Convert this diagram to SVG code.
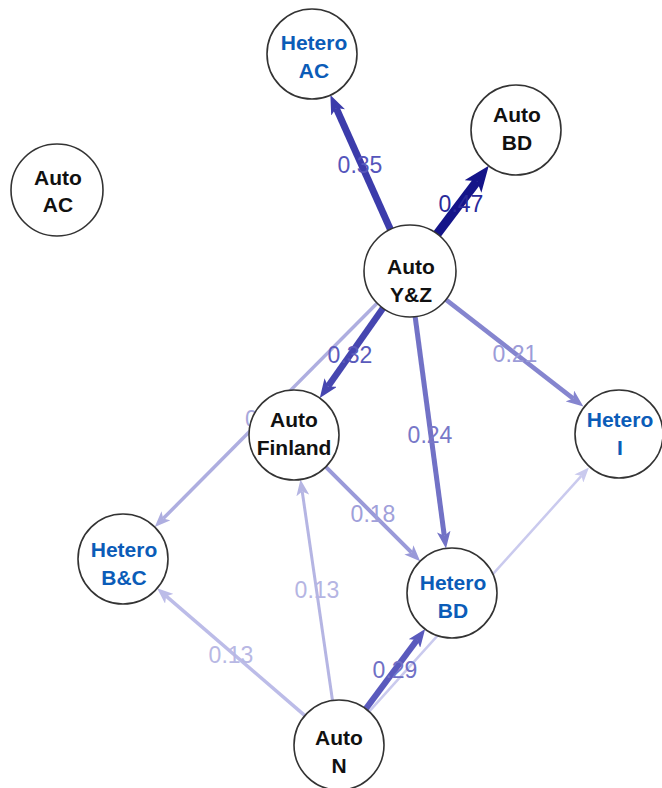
<svg xmlns="http://www.w3.org/2000/svg" width="662" height="788" viewBox="0 0 662 788">
  <style>
    .node circle { fill: #ffffff; stroke: #333333; stroke-width: 1.6; }
    .node text { font-family: "Liberation Sans", Arial, sans-serif; font-weight: bold; font-size: 21px; text-anchor: middle; }
    .auto text { fill: #111111; }
    .hetero text { fill: #0b5cb8; }
    .edge { fill: none; stroke-linecap: butt; }
    .elabel { font-family: "Liberation Sans", Arial, sans-serif; font-size: 23px; text-anchor: middle; }
  </style>
  <defs>
    <marker id="ah-47" viewBox="0 0 20 16" refX="5" refY="8" markerUnits="userSpaceOnUse" markerWidth="26" markerHeight="20.8" orient="auto"><path d="M0,0 L20,8 L0,16 L5,8 z" fill="#141489"/></marker>
    <marker id="ah-35" viewBox="0 0 20 16" refX="5" refY="8" markerUnits="userSpaceOnUse" markerWidth="19" markerHeight="15.2" orient="auto"><path d="M0,0 L20,8 L0,16 L5,8 z" fill="#3c3cab"/></marker>
    <marker id="ah-32" viewBox="0 0 20 16" refX="5" refY="8" markerUnits="userSpaceOnUse" markerWidth="19" markerHeight="15.2" orient="auto"><path d="M0,0 L20,8 L0,16 L5,8 z" fill="#4646b0"/></marker>
    <marker id="ah-29" viewBox="0 0 20 16" refX="5" refY="8" markerUnits="userSpaceOnUse" markerWidth="18" markerHeight="14.4" orient="auto"><path d="M0,0 L20,8 L0,16 L5,8 z" fill="#5a5abd"/></marker>
    <marker id="ah-24" viewBox="0 0 20 16" refX="5" refY="8" markerUnits="userSpaceOnUse" markerWidth="17" markerHeight="13.6" orient="auto"><path d="M0,0 L20,8 L0,16 L5,8 z" fill="#7272c6"/></marker>
    <marker id="ah-21" viewBox="0 0 20 16" refX="5" refY="8" markerUnits="userSpaceOnUse" markerWidth="17" markerHeight="13.6" orient="auto"><path d="M0,0 L20,8 L0,16 L5,8 z" fill="#8585cf"/></marker>
    <marker id="ah-18" viewBox="0 0 20 16" refX="5" refY="8" markerUnits="userSpaceOnUse" markerWidth="16" markerHeight="12.8" orient="auto"><path d="M0,0 L20,8 L0,16 L5,8 z" fill="#9a9ad9"/></marker>
    <marker id="ah-13a" viewBox="0 0 20 16" refX="5" refY="8" markerUnits="userSpaceOnUse" markerWidth="16" markerHeight="12.8" orient="auto"><path d="M0,0 L20,8 L0,16 L5,8 z" fill="#bcbce8"/></marker>
    <marker id="ah-13b" viewBox="0 0 20 16" refX="5" refY="8" markerUnits="userSpaceOnUse" markerWidth="16" markerHeight="12.8" orient="auto"><path d="M0,0 L20,8 L0,16 L5,8 z" fill="#b5b5e3"/></marker>
    <marker id="ah-bc" viewBox="0 0 20 16" refX="5" refY="8" markerUnits="userSpaceOnUse" markerWidth="16" markerHeight="12.8" orient="auto"><path d="M0,0 L20,8 L0,16 L5,8 z" fill="#aeaee0"/></marker>
    <marker id="ah-ni" viewBox="0 0 20 16" refX="5" refY="8" markerUnits="userSpaceOnUse" markerWidth="15" markerHeight="12" orient="auto"><path d="M0,0 L20,8 L0,16 L5,8 z" fill="#cacaee"/></marker>
  </defs>

  <!-- weighted directed connectors -->
  <g id="connectors">
    <!-- Auto N -> Hetero I (label hidden behind Hetero BD) -->
    <line class="edge" x1="369.1" y1="711.6" x2="581.4" y2="475.8" stroke="#cacaee" stroke-width="2.5" marker-end="url(#ah-ni)"/>
    <!-- Auto Y&Z -> Hetero B&C -->
    <line class="edge" x1="377.3" y1="302.9" x2="163.2" y2="518.6" stroke="#aeaee0" stroke-width="3.5" marker-end="url(#ah-bc)"/>
    <text class="elabel" x="245" y="427" style="text-anchor:start" fill="#a8a8dc">0</text>
    <!-- Auto N -> Hetero B&C -->
    <line class="edge" x1="304.9" y1="715.6" x2="166.2" y2="596.2" stroke="#bcbce8" stroke-width="3.5" marker-end="url(#ah-13a)"/>
    <text class="elabel" x="231" y="663" fill="#b8b8e4">0.13</text>
    <!-- Auto N -> Auto Finland -->
    <line class="edge" x1="332.5" y1="700.5" x2="302.2" y2="491.4" stroke="#b5b5e3" stroke-width="3" marker-end="url(#ah-13b)"/>
    <text class="elabel" x="317" y="598" fill="#b5b5e3">0.13</text>
    <!-- Auto Finland -> Hetero BD -->
    <line class="edge" x1="325.8" y1="466.8" x2="411.7" y2="552.7" stroke="#9a9ad9" stroke-width="4" marker-end="url(#ah-18)"/>
    <text class="elabel" x="373" y="522" fill="#a0a0da">0.18</text>
    <!-- Auto Y&Z -> Hetero I -->
    <line class="edge" x1="444.6" y1="298.6" x2="573.3" y2="398.6" stroke="#8585cf" stroke-width="4.5" marker-end="url(#ah-21)"/>
    <text class="elabel" x="515" y="362" fill="#9c9cd8">0.21</text>
    <!-- Auto Y&Z -> Hetero BD -->
    <line class="edge" x1="415" y1="315.6" x2="444.3" y2="535.8" stroke="#7272c6" stroke-width="5" marker-end="url(#ah-24)"/>
    <text class="elabel" x="430" y="443" fill="#7878c8">0.24</text>
    <!-- Auto N -> Hetero BD -->
    <line class="edge" x1="365.8" y1="708.9" x2="417.1" y2="639.9" stroke="#5a5abd" stroke-width="6" marker-end="url(#ah-29)"/>
    <text class="elabel" x="395" y="678" fill="#7070c5">0.29</text>
    <!-- Auto Y&Z -> Auto Finland -->
    <line class="edge" x1="383.2" y1="307.9" x2="328.0" y2="386.4" stroke="#4646b0" stroke-width="6.5" marker-end="url(#ah-32)"/>
    <text class="elabel" x="350" y="363" fill="#5a5abb">0.32</text>
    <!-- Auto Y&Z -> Hetero AC -->
    <line class="edge" x1="390.6" y1="229.9" x2="336.2" y2="108.1" stroke="#3c3cab" stroke-width="7" marker-end="url(#ah-35)"/>
    <text class="elabel" x="360" y="173" fill="#5555bb">0.35</text>
    <!-- Auto Y&Z -> Auto BD -->
    <line class="edge" x1="436.2" y1="235.2" x2="477.0" y2="181.3" stroke="#141489" stroke-width="9" marker-end="url(#ah-47)"/>
    <text class="elabel" x="461" y="212" fill="#2a2a9a">0.47</text>
  </g>

  <!-- nodes -->
  <g id="hetero-ac" class="node hetero">
    <circle cx="312" cy="54" r="45"/>
    <text x="314" y="50">Hetero</text>
    <text x="314" y="78">AC</text>
  </g>
  <g id="auto-bd" class="node auto">
    <circle cx="516" cy="130" r="45"/>
    <text x="517" y="122">Auto</text>
    <text x="517" y="150">BD</text>
  </g>
  <g id="auto-ac" class="node auto">
    <circle cx="57" cy="190" r="46"/>
    <text x="58" y="185">Auto</text>
    <text x="58" y="212">AC</text>
  </g>
  <g id="auto-yz" class="node auto">
    <circle cx="410" cy="271" r="46"/>
    <text x="411" y="274">Auto</text>
    <text x="411" y="302">Y&amp;Z</text>
  </g>
  <g id="auto-finland" class="node auto">
    <circle cx="294" cy="435" r="45"/>
    <text x="294" y="427">Auto</text>
    <text x="294" y="455">Finland</text>
  </g>
  <g id="hetero-i" class="node hetero">
    <circle cx="619" cy="434" r="44"/>
    <text x="620" y="427">Hetero</text>
    <text x="620" y="455">I</text>
  </g>
  <g id="hetero-bc" class="node hetero">
    <circle cx="123" cy="559" r="45"/>
    <text x="124" y="557">Hetero</text>
    <text x="124" y="585">B&amp;C</text>
  </g>
  <g id="hetero-bd" class="node hetero">
    <circle cx="452" cy="593" r="45"/>
    <text x="453" y="590">Hetero</text>
    <text x="453" y="618">BD</text>
  </g>
  <g id="auto-n" class="node auto">
    <circle cx="339" cy="745" r="45"/>
    <text x="339" y="745">Auto</text>
    <text x="339" y="773">N</text>
  </g>
</svg>
